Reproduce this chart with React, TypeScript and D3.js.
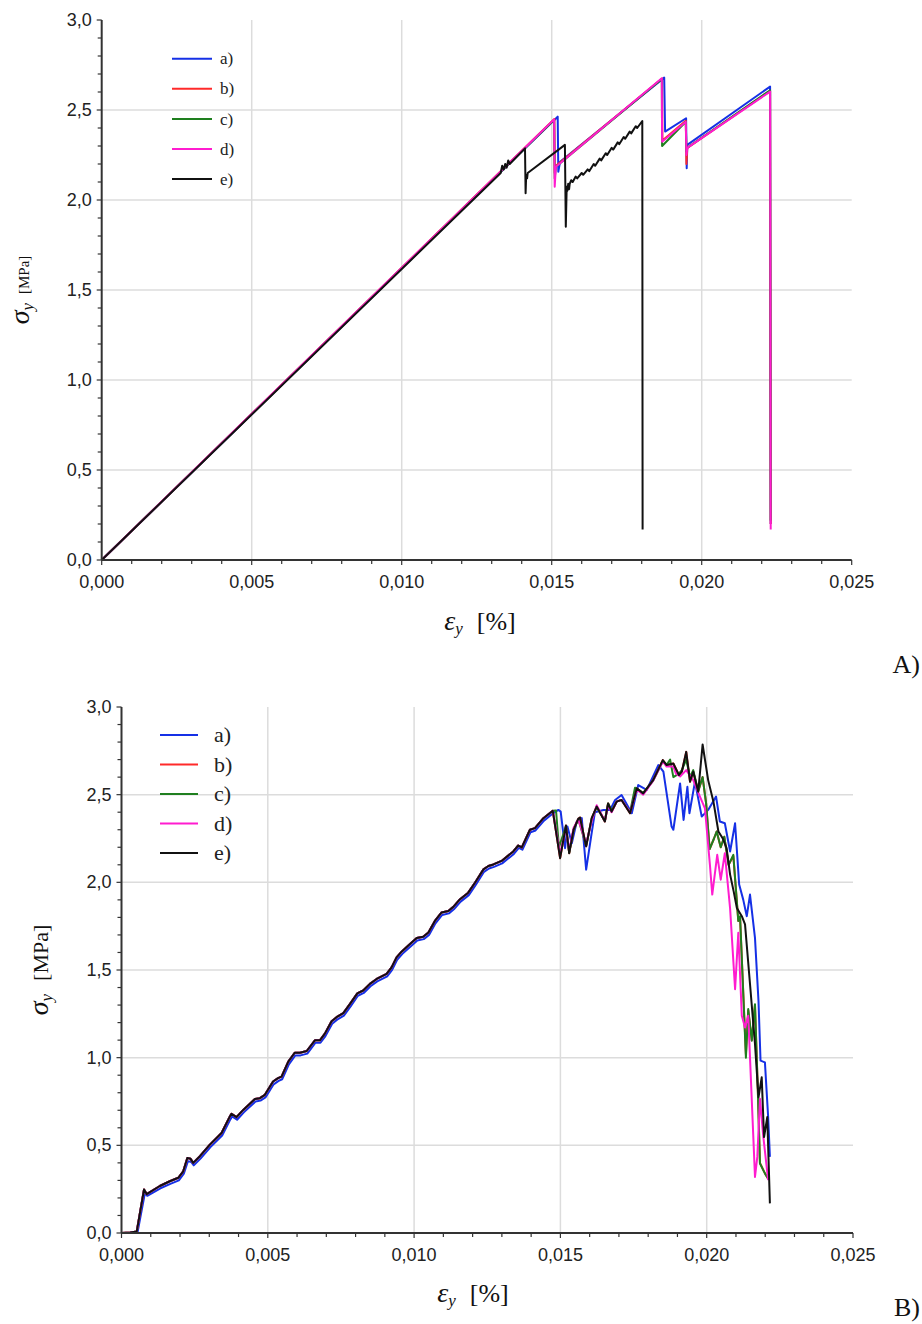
import React from 'react';
import * as d3 from 'd3';

type P = [number, number];

// ---------- Tick labels / names ----------
const X_TICKS = [0, 0.005, 0.01, 0.015, 0.02, 0.025];
const X_TICK_LABELS = ['0,000', '0,005', '0,010', '0,015', '0,020', '0,025'];
const Y_TICKS = [0, 0.5, 1, 1.5, 2, 2.5, 3];
const Y_TICK_LABELS = ['0,0', '0,5', '1,0', '1,5', '2,0', '2,5', '3,0'];
const SERIES_NAMES = ['a)', 'b)', 'c)', 'd)', 'e)'];
const SERIES_COLORS = ['#1530e6', '#ff2a2a', '#1f7f1f', '#ff1ccf', '#111111'];

// ---------- Panel A ----------
const A_a: P[] = [
  [0, 0], [0.0152, 2.463], [0.01522, 2.157], [0.01528, 2.213], [0.01875, 2.68],
  [0.01878, 2.38], [0.01948, 2.454], [0.0195, 2.176], [0.01952, 2.306],
  [0.02228, 2.63], [0.0223, 0.2],
];
const A_b: P[] = [
  [0, 0], [0.01509, 2.45], [0.0151, 2.15], [0.01514, 2.19], [0.01868, 2.675],
  [0.01869, 2.33], [0.01947, 2.44], [0.01949, 2.2], [0.01952, 2.29],
  [0.02228, 2.605], [0.0223, 0.2],
];
const A_c: P[] = [
  [0, 0], [0.01508, 2.445], [0.0151, 2.12], [0.01514, 2.185], [0.01867, 2.672],
  [0.01868, 2.3], [0.01947, 2.435], [0.01949, 2.27], [0.01952, 2.29],
  [0.02228, 2.61], [0.0223, 0.22],
];
const A_d: P[] = [
  [0, 0], [0.01508, 2.448], [0.0151, 2.074], [0.01514, 2.185], [0.01867, 2.676],
  [0.01868, 2.324], [0.01947, 2.435], [0.01949, 2.25], [0.01952, 2.29],
  [0.02228, 2.602], [0.0223, 0.17],
];
const A_e: P[] = [
  [0, 0], [0.0133, 2.15], [0.01335, 2.19], [0.0134, 2.17], [0.01345, 2.2], [0.0135, 2.18],
  [0.01355, 2.22], [0.0136, 2.2], [0.01411, 2.287], [0.01413, 2.037], [0.01415, 2.14],
  [0.01418, 2.12], [0.0142, 2.15], [0.01544, 2.306], [0.01547, 1.852], [0.0155, 2.074],
  [0.01552, 2.05], [0.01555, 2.09], [0.01558, 2.06], [0.0156, 2.09], [0.01565, 2.11],
  [0.0157, 2.1], [0.0158, 2.13], [0.01585, 2.12], [0.016, 2.15], [0.01605, 2.14],
  [0.0162, 2.17], [0.01625, 2.16], [0.0164, 2.2], [0.01645, 2.19], [0.0166, 2.23],
  [0.01665, 2.22], [0.0168, 2.26], [0.01685, 2.25], [0.017, 2.29], [0.01705, 2.28],
  [0.0172, 2.32], [0.01725, 2.31], [0.0174, 2.35], [0.01745, 2.34], [0.0176, 2.38],
  [0.01765, 2.37], [0.0178, 2.41], [0.01785, 2.4], [0.01802, 2.439], [0.01803, 0.17],
];

// ---------- Panel B ----------
const B_riseBlue: P[] = [
  [0, 0], [0.0003, 0.002], [0.00055, 0.006], [0.0008, 0.228], [0.00088, 0.212], [0.00133, 0.255],
  [0.00167, 0.28], [0.00196, 0.3], [0.00213, 0.338], [0.00227, 0.41], [0.00238, 0.405],
  [0.00247, 0.386], [0.0027, 0.424], [0.00304, 0.49], [0.00344, 0.556], [0.00372, 0.648],
  [0.00378, 0.665], [0.00395, 0.646], [0.00418, 0.688], [0.00458, 0.75], [0.00475, 0.755],
  [0.00492, 0.773], [0.0052, 0.848], [0.00537, 0.868], [0.00549, 0.877], [0.00572, 0.962],
  [0.00594, 1.013], [0.00612, 1.013], [0.00635, 1.023], [0.00663, 1.085], [0.0068, 1.085],
  [0.00697, 1.123], [0.0072, 1.194], [0.00737, 1.217], [0.0076, 1.24], [0.00783, 1.293],
  [0.00808, 1.353], [0.00828, 1.369], [0.00851, 1.407], [0.00874, 1.435], [0.00908, 1.464],
  [0.00925, 1.501], [0.00942, 1.558], [0.0096, 1.592], [0.00988, 1.634], [0.01011, 1.668],
  [0.01033, 1.676], [0.01051, 1.7], [0.01073, 1.766], [0.01096, 1.814], [0.01119, 1.823],
  [0.01136, 1.846], [0.01159, 1.89], [0.01187, 1.927], [0.0121, 1.984], [0.01239, 2.06],
  [0.01256, 2.079], [0.01273, 2.088], [0.01301, 2.108], [0.01341, 2.162], [0.01358, 2.196],
  [0.0137, 2.186], [0.01398, 2.286], [0.01415, 2.296], [0.01444, 2.352], [0.01476, 2.395],
];
const B_tailA: P[] = [
  [0.01493, 2.413], [0.01501, 2.403], [0.01516, 2.195], [0.01524, 2.318], [0.01539, 2.223],
  [0.01556, 2.347], [0.01573, 2.366], [0.01588, 2.072], [0.01605, 2.261], [0.01618, 2.4],
  [0.01647, 2.413], [0.0167, 2.413], [0.01687, 2.47], [0.01709, 2.498], [0.01744, 2.394],
  [0.01766, 2.555], [0.01795, 2.527], [0.01835, 2.669], [0.01852, 2.631], [0.0188, 2.318],
  [0.01886, 2.3], [0.01909, 2.564], [0.01921, 2.356], [0.01934, 2.545], [0.01941, 2.394],
  [0.0196, 2.574], [0.01983, 2.375], [0.02005, 2.413], [0.02032, 2.489], [0.02045, 2.347],
  [0.02062, 2.337], [0.0208, 2.176], [0.02097, 2.337], [0.02111, 1.987], [0.02125, 1.9],
  [0.02137, 1.807], [0.02148, 1.93], [0.02165, 1.683], [0.02177, 1.324], [0.02184, 0.983],
  [0.02199, 0.973], [0.0221, 0.661], [0.02216, 0.434],
];
const B_rise: P[] = [
  [0, 0], [0.0003, 0.003], [0.00052, 0.008], [0.00077, 0.248], [0.00086, 0.222], [0.00131, 0.268],
  [0.00165, 0.295], [0.00194, 0.315], [0.00211, 0.352], [0.00225, 0.428], [0.00236, 0.423],
  [0.00245, 0.4], [0.00268, 0.438], [0.00302, 0.504], [0.00342, 0.57], [0.0037, 0.664],
  [0.00376, 0.68], [0.00393, 0.661], [0.00416, 0.702], [0.00456, 0.764], [0.00473, 0.769],
  [0.0049, 0.788], [0.00518, 0.864], [0.00535, 0.883], [0.00547, 0.892], [0.0057, 0.977],
  [0.00592, 1.028], [0.0061, 1.028], [0.00633, 1.038], [0.00661, 1.099], [0.00678, 1.099],
  [0.00695, 1.137], [0.00718, 1.208], [0.00735, 1.231], [0.00758, 1.254], [0.00781, 1.307],
  [0.00806, 1.367], [0.00826, 1.383], [0.00849, 1.421], [0.00872, 1.449], [0.00906, 1.478],
  [0.00923, 1.515], [0.0094, 1.572], [0.00958, 1.606], [0.00986, 1.648], [0.01009, 1.682],
  [0.01031, 1.69], [0.01049, 1.714], [0.01071, 1.78], [0.01094, 1.828], [0.01117, 1.837],
  [0.01134, 1.86], [0.01157, 1.904], [0.01185, 1.941], [0.01208, 1.998], [0.01237, 2.074],
  [0.01254, 2.093], [0.01271, 2.102], [0.01299, 2.122], [0.01339, 2.176], [0.01356, 2.21],
  [0.01368, 2.199], [0.01396, 2.3], [0.01413, 2.309], [0.01442, 2.366], [0.01474, 2.408],
];
const B_mid: P[] = [
  [0.01499, 2.138], [0.01519, 2.324], [0.0153, 2.166], [0.01545, 2.3], [0.01561, 2.362],
  [0.01567, 2.37], [0.01588, 2.205], [0.01607, 2.366], [0.01624, 2.432], [0.01652, 2.347],
  [0.01663, 2.45], [0.01675, 2.403], [0.01692, 2.46], [0.01709, 2.47], [0.01738, 2.394],
  [0.01761, 2.536], [0.01783, 2.507], [0.01817, 2.583], [0.0185, 2.697], [0.01863, 2.669],
  [0.01886, 2.678], [0.01905, 2.612], [0.01915, 2.631], [0.0193, 2.744], [0.01943, 2.574],
  [0.01954, 2.631],
];
const B_tailB: P[] = [
  [0.01971, 2.52], [0.01986, 2.6], [0.01998, 2.45], [0.0201, 2.19], [0.02025, 2.25],
  [0.02034, 2.29], [0.02048, 2.2], [0.0206, 2.26], [0.02075, 2.1], [0.02091, 2.15],
  [0.02108, 1.78], [0.02114, 1.8], [0.02134, 1.02], [0.02142, 1.27], [0.02154, 1.1],
  [0.02165, 1.3], [0.02175, 0.8], [0.02182, 0.4], [0.02199, 0.34], [0.0221, 0.31],
];
const B_tailC: P[] = [
  [0.01485, 2.41], [0.01495, 2.2], [0.01519, 2.32], [0.0153, 2.17], [0.01545, 2.3],
  [0.01561, 2.36], [0.01588, 2.21], [0.01607, 2.36], [0.01624, 2.43], [0.01652, 2.35],
  [0.01663, 2.45], [0.01675, 2.41], [0.01692, 2.46], [0.01709, 2.47], [0.01738, 2.4],
  [0.01755, 2.54], [0.01783, 2.51], [0.01817, 2.58], [0.0185, 2.69], [0.01863, 2.67],
  [0.01875, 2.7], [0.01886, 2.6], [0.01905, 2.62], [0.01915, 2.64], [0.0193, 2.7],
  [0.01943, 2.6], [0.01954, 2.64], [0.01971, 2.52], [0.01986, 2.6], [0.01998, 2.45],
  [0.0201, 2.19], [0.02025, 2.25], [0.02034, 2.29], [0.02048, 2.2], [0.0206, 2.26],
  [0.02075, 2.1], [0.02091, 2.157], [0.02108, 1.78], [0.02114, 1.807], [0.02134, 1.0],
  [0.02142, 1.277], [0.02154, 1.097], [0.02165, 1.305], [0.02175, 0.8], [0.02182, 0.396],
  [0.02199, 0.34], [0.0221, 0.31],
];
const B_tailD: P[] = [
  [0.01499, 2.16], [0.01519, 2.31], [0.0153, 2.18], [0.01545, 2.31], [0.01561, 2.36],
  [0.01588, 2.22], [0.01607, 2.35], [0.01624, 2.44], [0.01652, 2.35], [0.01663, 2.44],
  [0.01675, 2.4], [0.01692, 2.46], [0.01709, 2.47], [0.01738, 2.4], [0.01761, 2.53],
  [0.01783, 2.5], [0.01817, 2.58], [0.0185, 2.69], [0.01863, 2.66], [0.01886, 2.66],
  [0.01895, 2.62], [0.01909, 2.604], [0.0193, 2.64], [0.01954, 2.583], [0.01977, 2.489],
  [0.01994, 2.422], [0.02011, 2.1], [0.02019, 1.93], [0.02036, 2.157], [0.02048, 2.015],
  [0.02062, 2.166], [0.0208, 1.85], [0.02097, 1.39], [0.02108, 1.712], [0.0212, 1.239],
  [0.02131, 1.172], [0.02142, 1.239], [0.02165, 0.32], [0.02173, 0.434], [0.02182, 0.765],
  [0.02193, 0.557], [0.0221, 0.301],
];
const B_tailE: P[] = [
  [0.01971, 2.517], [0.01986, 2.786], [0.02005, 2.583], [0.02023, 2.46], [0.0204, 2.29],
  [0.02055, 2.25], [0.02068, 2.195], [0.0208, 2.044], [0.02092, 1.95], [0.02103, 1.854],
  [0.0212, 1.807], [0.02131, 1.76], [0.02148, 1.42], [0.02165, 1.078], [0.02177, 0.774],
  [0.02188, 0.888], [0.02196, 0.547], [0.02207, 0.661], [0.02216, 0.169],
];

const PANEL_A_SERIES: P[][] = [A_a, A_b, A_c, A_d, A_e];
const PANEL_B_SERIES: P[][] = [
  [...B_riseBlue, ...B_tailA],
  [...B_rise, ...B_mid, ...B_tailB],
  [...B_rise, ...B_tailC],
  [...B_rise, ...B_tailD],
  [...B_rise, ...B_mid, ...B_tailE],
];

interface PanelProps {
  left: number; right: number; top: number; bottom: number;
  series: P[][];
  legendX: number; legendY: number; legendStep: number; legendLen: number;
  legendFont: number; legendTextDx: number;
  yTitleX: number; yTitleSigma: number; yTitleUnit: number;
  xTitleY: number; xTitleX: number;
  tag: string; tagY: number;
  tickFont: number;
}

const SANS = '"Liberation Sans", Arial, sans-serif';
const SERIF = '"Liberation Serif", "Times New Roman", serif';

function Panel(p: PanelProps) {
  const x = d3.scaleLinear().domain([0, 0.025]).range([p.left, p.right]);
  const y = d3.scaleLinear().domain([0, 3]).range([p.bottom, p.top]);
  const line = d3.line<P>().x(d => x(d[0])).y(d => y(d[1]));
  const xMinor = d3.range(0, 0.02501, 0.001);
  const yMinor = d3.range(0, 3.001, 0.1);
  const yMid = (p.top + p.bottom) / 2;
  return (
    <g>
      {X_TICKS.filter(v => v > 0 && v < 0.025).map(v => (
        <line key={'gx' + v} x1={x(v)} x2={x(v)} y1={p.top} y2={p.bottom} stroke="#dcdcdc" strokeWidth={1.5} />
      ))}
      {Y_TICKS.filter(v => v > 0 && v < 3).map(v => (
        <line key={'gy' + v} x1={p.left} x2={p.right} y1={y(v)} y2={y(v)} stroke="#dcdcdc" strokeWidth={1.5} />
      ))}
      {p.series.map((s, i) => (
        <path key={'s' + i} d={line(s) || ''} fill="none" stroke={SERIES_COLORS[i]} strokeWidth={2} strokeLinejoin="round" />
      ))}
      <line x1={p.left} x2={p.left} y1={p.top} y2={p.bottom} stroke="#333" strokeWidth={2} />
      <line x1={p.left} x2={p.right} y1={p.bottom} y2={p.bottom} stroke="#333" strokeWidth={2} />
      {xMinor.map((v, i) => (
        <line key={'xm' + i} x1={x(v)} x2={x(v)} y1={p.bottom} y2={p.bottom + (i % 5 === 0 ? 5 : 4)} stroke="#333" strokeWidth={1.2} />
      ))}
      {yMinor.map((v, i) => (
        <line key={'ym' + i} x1={p.left - (i % 5 === 0 ? 5 : 4)} x2={p.left} y1={y(v)} y2={y(v)} stroke="#333" strokeWidth={1.2} />
      ))}
      {X_TICKS.map((v, i) => (
        <text key={'xl' + i} x={x(v)} y={p.bottom + 28} textAnchor="middle" fontFamily={SANS} fontSize={p.tickFont} fill="#222">{X_TICK_LABELS[i]}</text>
      ))}
      {Y_TICKS.map((v, i) => (
        <text key={'yl' + i} x={p.left - 10} y={y(v) + 6} textAnchor="end" fontFamily={SANS} fontSize={p.tickFont} fill="#222">{Y_TICK_LABELS[i]}</text>
      ))}
      {SERIES_NAMES.map((n, i) => (
        <g key={'lg' + i}>
          <line x1={p.legendX} x2={p.legendX + p.legendLen} y1={p.legendY + i * p.legendStep} y2={p.legendY + i * p.legendStep} stroke={SERIES_COLORS[i]} strokeWidth={2} />
          <text x={p.legendX + p.legendLen + p.legendTextDx} y={p.legendY + i * p.legendStep + p.legendFont * 0.33} fontFamily={SERIF} fontSize={p.legendFont} fill="#222">{n}</text>
        </g>
      ))}
      <text transform={`translate(${p.yTitleX},${yMid}) rotate(-90)`} textAnchor="middle" fontFamily={SERIF} fill="#111">
        <tspan fontStyle="italic" fontSize={p.yTitleSigma}>σ</tspan>
        <tspan fontStyle="italic" fontSize={p.yTitleSigma * 0.6} dy={4}>y</tspan>
        <tspan fontSize={p.yTitleUnit} dy={-4} dx={p.yTitleUnit * 0.6}>[MPa]</tspan>
      </text>
      <text x={p.xTitleX} y={p.xTitleY} textAnchor="middle" fontFamily={SERIF} fill="#111">
        <tspan fontStyle="italic" fontSize={28}>ε</tspan>
        <tspan fontStyle="italic" fontSize={17} dy={4}>y</tspan>
        <tspan fontSize={26} dy={-4} dx={14}>[%]</tspan>
      </text>
      <text x={920} y={p.tagY} textAnchor="end" fontFamily={SERIF} fontSize={26} fill="#111">{p.tag}</text>
    </g>
  );
}

export default function App() {
  return (
    <svg width={922} height={1324} style={{ position: 'absolute', left: 0, top: 0, background: '#fff' }}>
      <rect width={922} height={1324} fill="#fff" />
      <Panel
        left={101.7} right={851.7} top={20} bottom={560}
        series={PANEL_A_SERIES}
        legendX={172} legendY={58.7} legendStep={30.1} legendLen={40}
        legendFont={17} legendTextDx={8}
        yTitleX={29} yTitleSigma={28} yTitleUnit={15}
        xTitleX={480} xTitleY={630}
        tag="A)" tagY={673}
        tickFont={18}
      />
      <Panel
        left={121.5} right={853} top={707} bottom={1233}
        series={PANEL_B_SERIES}
        legendX={160} legendY={735} legendStep={29.5} legendLen={38}
        legendFont={22} legendTextDx={16}
        yTitleX={48} yTitleSigma={28} yTitleUnit={22}
        xTitleX={473} xTitleY={1302}
        tag="B)" tagY={1316}
        tickFont={18}
      />
    </svg>
  );
}
